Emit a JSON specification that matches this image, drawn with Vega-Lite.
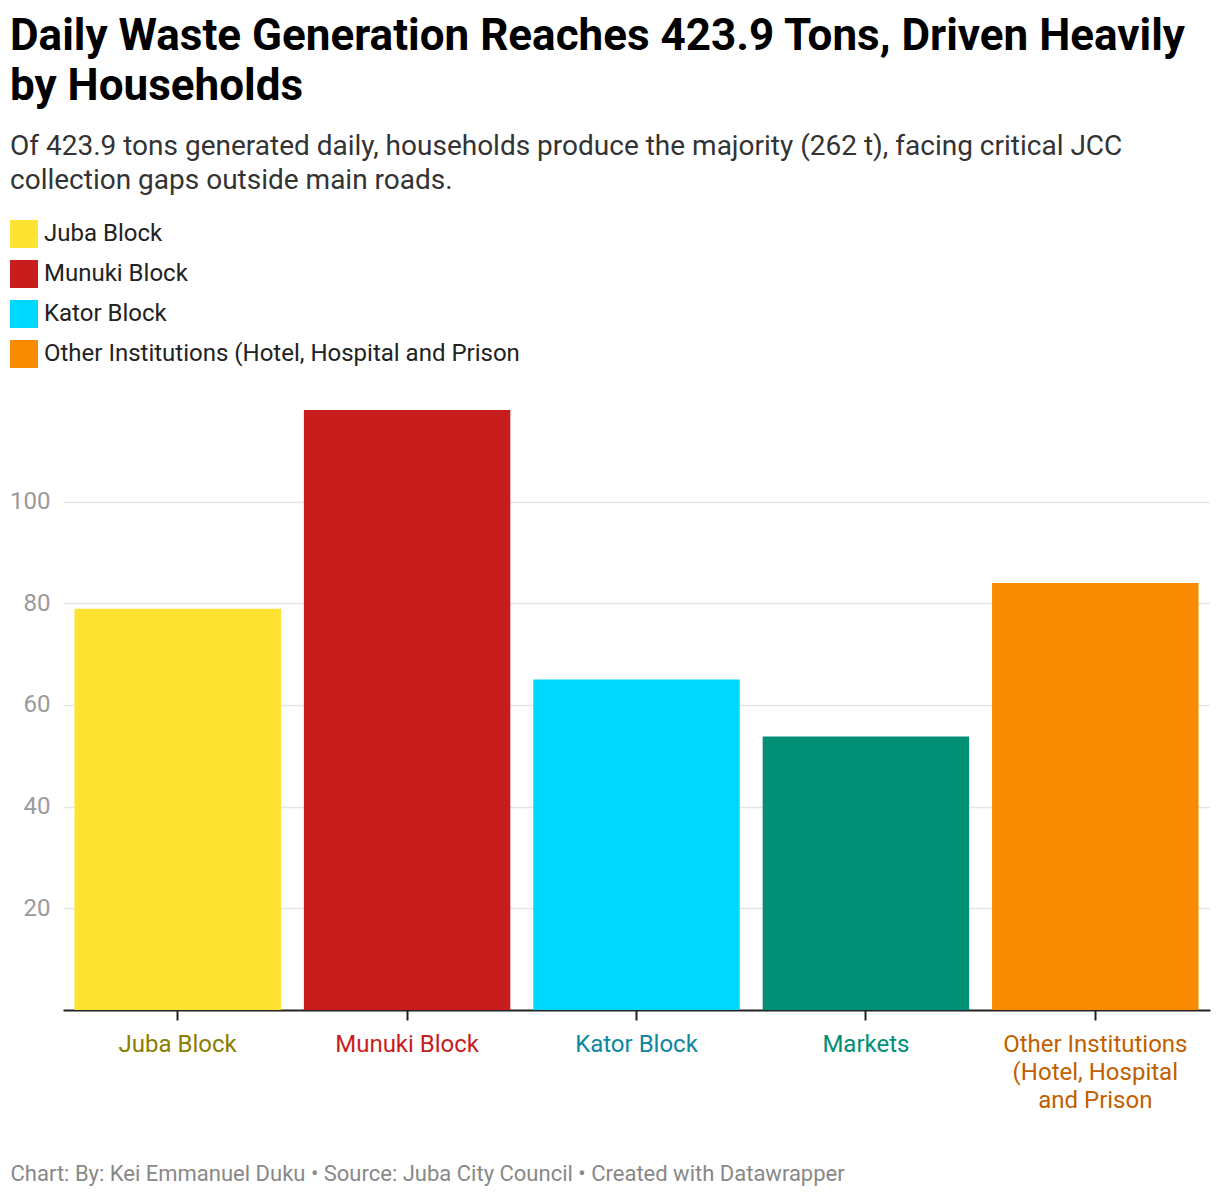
{
  "$schema": "https://vega.github.io/schema/vega-lite/v6.json",
  "autosize": "none",
  "width": 1147,
  "height": 600,
  "padding": {"left": 63, "top": 410, "right": 10, "bottom": 188},
  "background": "white",
  "title": {
    "text": ["Daily Waste Generation Reaches 423.9 Tons, Driven Heavily", "by Households"],
    "subtitle": ["Of 423.9 tons generated daily, households produce the majority (262 t), facing critical JCC", "collection gaps outside main roads."],
    "anchor": "start",
    "frame": "group",
    "dx": -53,
    "offset": 25,
    "font": "Roboto",
    "fontSize": 44,
    "fontWeight": "bold",
    "color": "#000000",
    "lineHeight": 50,
    "subtitleFont": "Roboto",
    "subtitleFontSize": 28,
    "subtitleColor": "#333333",
    "subtitleLineHeight": 34,
    "subtitlePadding": 24
  },
  "data": {
    "values": [
      {"area": "Juba Block", "tons": 78.9},
      {"area": "Munuki Block", "tons": 118},
      {"area": "Kator Block", "tons": 65},
      {"area": "Markets", "tons": 53.8},
      {"area": "Other Institutions (Hotel, Hospital and Prison", "tons": 84}
    ]
  },
  "mark": {"type": "bar"},
  "encoding": {
    "x": {
      "field": "area",
      "type": "nominal",
      "sort": null,
      "scale": {"paddingInner": 0.1, "paddingOuter": 0.05},
      "axis": {
        "title": "Chart: By: Kei Emmanuel Duku • Source: Juba City Council • Created with Datawrapper",
        "titleFont": "Roboto",
        "titleFontSize": 22,
        "titleFontWeight": "normal",
        "titleColor": "#888888",
        "titleAnchor": "start",
        "titleAlign": "left",
        "titleBaseline": "alphabetic",
        "titleX": -53,
        "titleY": 170,
        "labelAngle": 0,
        "labelFont": "Roboto",
        "labelFontSize": 24,
        "labelPadding": 12,
        "labelLineHeight": 28,
        "labelLimit": 400,
        "labelExpr": "datum.value == 'Other Institutions (Hotel, Hospital and Prison' ? ['Other Institutions', '(Hotel, Hospital', 'and Prison'] : datum.value",
        "labelColor": {
          "condition": [
            {"test": "datum.value == 'Juba Block'", "value": "#8a7d00"},
            {"test": "datum.value == 'Munuki Block'", "value": "#c71e1d"},
            {"test": "datum.value == 'Kator Block'", "value": "#0f86a3"},
            {"test": "datum.value == 'Markets'", "value": "#008f76"}
          ],
          "value": "#c15f00"
        },
        "domainColor": "#222222",
        "domainWidth": 2,
        "tickColor": "#222222",
        "tickWidth": 2,
        "tickSize": 10,
        "grid": false
      }
    },
    "y": {
      "field": "tons",
      "type": "quantitative",
      "scale": {"domain": [0, 118], "nice": false},
      "axis": {
        "title": null,
        "values": [20, 40, 60, 80, 100],
        "domain": false,
        "ticks": false,
        "tickSize": 0,
        "labelPadding": 13,
        "labelFont": "Roboto",
        "labelFontSize": 24,
        "labelColor": "#9a9a9a",
        "gridColor": "#e5e5e5",
        "gridWidth": 1.5
      }
    },
    "color": {
      "field": "area",
      "type": "nominal",
      "scale": {
        "domain": ["Juba Block", "Munuki Block", "Kator Block", "Markets", "Other Institutions (Hotel, Hospital and Prison"],
        "range": ["#fee333", "#c71e1d", "#00d8ff", "#018f76", "#f98b00"]
      },
      "legend": {
        "values": ["Juba Block", "Munuki Block", "Kator Block", "Other Institutions (Hotel, Hospital and Prison"],
        "title": null,
        "orient": "none",
        "legendX": -53,
        "legendY": -190,
        "direction": "vertical",
        "padding": 0,
        "symbolType": "square",
        "symbolSize": 784,
        "symbolStrokeWidth": 0,
        "symbolOpacity": 1,
        "rowPadding": 12,
        "labelOffset": 6,
        "labelFont": "Roboto",
        "labelFontSize": 24,
        "labelColor": "#222222",
        "labelLimit": 800
      }
    }
  },
  "config": {
    "font": "Roboto",
    "view": {"stroke": null}
  }
}
